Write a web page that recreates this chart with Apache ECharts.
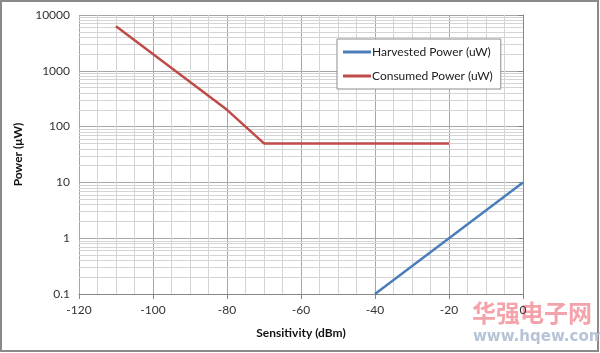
<!DOCTYPE html>
<html>
<head>
<meta charset="utf-8">
<script src="https://cdn.jsdelivr.net/npm/echarts@6/dist/echarts.min.js"></script>
<style>
  html, body { margin: 0; padding: 0; background: #fff; }
  #chart { width: 600px; height: 353px; }
</style>
</head>
<body>
<div id="chart"></div>
<script>
// data
const harvestedX = [-40, 0]
const harvestedY = [0.1, 10]
const consumedX = [-110, -80, -70, -20]
const consumedY = [6300, 200, 50, 50]
const decades = [0.1, 1, 10, 100, 1000]
const minorSteps = [2, 3, 4, 5, 6, 7, 8, 9]

const font = 'Lato, "Open Sans", sans-serif'

// log minor grid lines (2..9 per decade)
const minorLines = []
decades.forEach(d => {
  minorSteps.forEach(m => minorLines.push({ yAxis: +(d * m).toPrecision(3) }))
})

const chart = echarts.init(document.getElementById('chart'))
chart.setOption({
  animation: false,
  textStyle: { fontFamily: font },
  grid: { left: 79, right: 77, top: 15, bottom: 59 },
  legend: {
    orient: 'vertical',
    left: 337,
    top: 39,
    padding: [7, 8, 7, 6],
    itemGap: 12,
    itemWidth: 28,
    itemHeight: 3,
    icon: 'rect',
    borderColor: '#8c8c8c',
    borderWidth: 1,
    backgroundColor: '#fff',
    textStyle: { fontFamily: font, fontSize: 12, color: '#222', padding: [0, 0, 0, -4] },
    data: ['Harvested Power (uW)', 'Consumed Power (uW)']
  },
  xAxis: {
    type: 'value',
    min: -120,
    max: 0,
    interval: 20,
    name: 'Sensitivity (dBm)',
    nameLocation: 'middle',
    nameGap: 33,
    nameTextStyle: { fontFamily: font, fontSize: 12, fontWeight: 'bold', color: '#111' },
    axisLine: { onZero: false, lineStyle: { color: '#868686' } },
    axisTick: { show: true, length: 5, lineStyle: { color: '#868686' } },
    axisLabel: { fontFamily: font, fontSize: 12, color: '#333', margin: 10 },
    splitLine: { show: true, lineStyle: { color: '#a6a6a6', width: 1 } },
    minorTick: { show: false, splitNumber: 4 },
    minorSplitLine: { show: true, lineStyle: { color: '#d4d4d4', width: 1 } }
  },
  yAxis: {
    type: 'log',
    logBase: 10,
    min: 0.1,
    max: 10000,
    name: 'Power (\u03bcW)',
    nameLocation: 'middle',
    nameGap: 48,
    nameTextStyle: { fontFamily: font, fontSize: 12, fontWeight: 'bold', color: '#111' },
    axisLine: { show: true, lineStyle: { color: '#868686' } },
    axisTick: { show: true, length: 5, lineStyle: { color: '#868686' } },
    axisLabel: {
      fontFamily: font, fontSize: 12, color: '#333', margin: 9,
      formatter: v => String(+v.toPrecision(6))
    },
    splitLine: { show: true, lineStyle: { color: '#a6a6a6', width: 1 } }
  },
  series: [
    {
      name: 'Harvested Power (uW)',
      type: 'line',
      data: harvestedX.map((x, i) => [x, harvestedY[i]]),
      showSymbol: false,
      lineStyle: { color: '#4a7ebb', width: 2.5 },
      itemStyle: { color: '#4a7ebb' },
      z: 5
    },
    {
      name: 'Consumed Power (uW)',
      type: 'line',
      data: consumedX.map((x, i) => [x, consumedY[i]]),
      showSymbol: false,
      lineStyle: { color: '#be4b48', width: 2.5 },
      itemStyle: { color: '#be4b48' },
      z: 5,
      markLine: {
        silent: true,
        symbol: 'none',
        label: { show: false },
        lineStyle: { color: '#d4d4d4', type: 'solid', width: 1 },
        data: minorLines,
        z: 1
      }
    }
  ],
  graphic: [
    {
      type: 'rect',
      shape: { x: 1, y: 1, width: 597, height: 350 },
      style: { fill: 'none', stroke: '#8a8a8a', lineWidth: 2 },
      silent: true
    },
    {
      type: 'text',
      left: 472,
      top: 301,
      style: { text: '华强电子网', fill: '#f4a3aa', font: 'bold 24px "Noto Sans CJK SC", sans-serif' },
      silent: true
    },
    {
      type: 'text',
      left: 473,
      top: 330,
      style: { text: 'www.hqew.com', fill: '#b7c3d6', font: 'bold 15px "DejaVu Sans", sans-serif' },
      silent: true
    }
  ]
})
</script>
</body>
</html>
